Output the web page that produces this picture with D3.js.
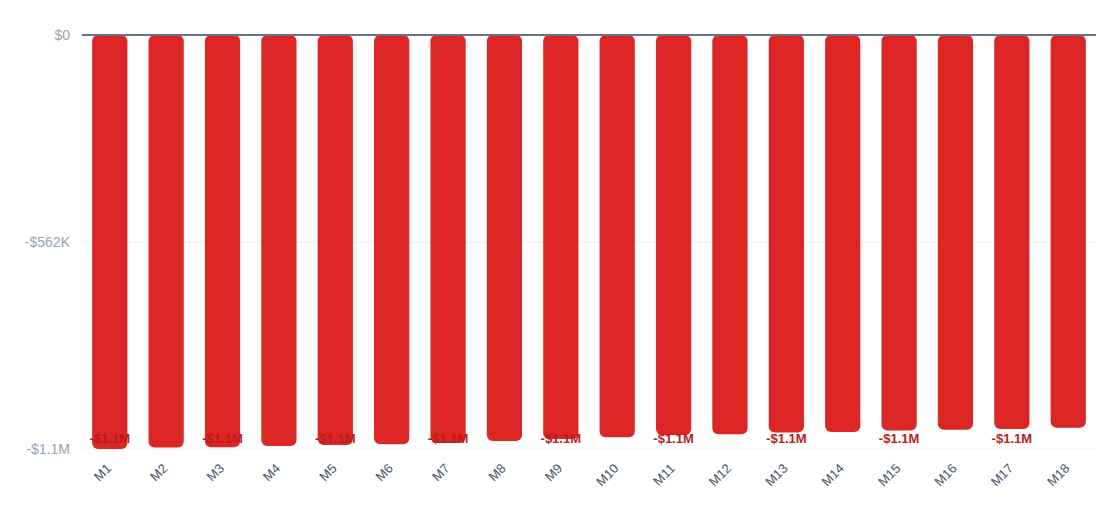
<!DOCTYPE html>
<html>
<head>
<meta charset="utf-8">
<script src="https://cdn.jsdelivr.net/npm/d3@7"></script>
<style>
  html, body { margin: 0; padding: 0; background: #fff; }
  body { font-family: "Liberation Sans", Arial, Helvetica, sans-serif; }
  svg { display: block; }
</style>
</head>
<body>
<div id="chart"></div>
<script>
const months = ["M1", "M2", "M3", "M4", "M5", "M6", "M7", "M8", "M9",
  "M10", "M11", "M12", "M13", "M14", "M15", "M16", "M17", "M18"];

// cumulative cash position
const values = [-1124000, -1120000, -1119000, -1116000, -1113000, -1111000,
  -1108000, -1102000, -1097000, -1092000, -1086000, -1084000, -1079000,
  -1078000, -1074000, -1072000, -1070000, -1066000];

const width = 1120;
const height = 531;
const margin = { top: 35, right: 24, bottom: 82, left: 82 };
const innerWidth = width - margin.left - margin.right;
const innerHeight = height - margin.top - margin.bottom;

const data = months.map((m, i) => ({ month: m, value: values[i] }));

const yMin = d3.min(values);
const yTicks = [0, yMin / 2, yMin];

function money(v) {
  const a = Math.abs(v);
  const sign = v < 0 ? "-" : "";
  if (a === 0) return "$0";
  if (a >= 1e6) return `${sign}$${(a / 1e6).toFixed(1)}M`;
  if (a >= 1e3) return `${sign}$${Math.round(a / 1e3)}K`;
  return `${sign}$${Math.round(a)}`;
}

const svg = d3.select("#chart")
  .append("svg")
  .attr("width", width)
  .attr("height", height);

const g = svg.append("g")
  .attr("transform", `translate(${margin.left},${margin.top})`);

const x = d3.scaleBand()
  .domain(months)
  .range([0, innerWidth])
  .paddingInner(0.375)
  .paddingOuter(0.18);

const y = d3.scaleLinear()
  .domain([yMin, 0])
  .range([innerHeight, 0]);

// grid lines
g.append("g")
  .selectAll("line")
  .data(yTicks.filter(t => t !== 0))
  .enter()
  .append("line")
  .attr("x1", 0)
  .attr("x2", innerWidth)
  .attr("y1", d => y(d))
  .attr("y2", d => y(d))
  .attr("stroke", "#eef2f7")
  .attr("stroke-width", 1);

// y labels
const yAxis = d3.axisLeft(y)
  .tickValues(yTicks)
  .tickFormat(money)
  .tickSize(0)
  .tickPadding(12);

g.append("g")
  .call(yAxis)
  .call(sel => sel.select(".domain").remove())
  .selectAll("text")
  .attr("fill", "#94a3b8")
  .style("font-size", "14px")
  .style("font-family", "'Liberation Sans', Arial, sans-serif");

// bars
g.append("g")
  .selectAll("rect")
  .data(data)
  .enter()
  .append("rect")
  .attr("x", d => x(d.month))
  .attr("y", d => y(0))
  .attr("width", x.bandwidth())
  .attr("height", d => y(d.value) - y(0))
  .attr("rx", 6)
  .attr("fill", "#dc2626");

// zero line
g.append("line")
  .attr("x1", 0)
  .attr("x2", innerWidth)
  .attr("y1", y(0))
  .attr("y2", y(0))
  .attr("stroke", "#64748b")
  .attr("stroke-width", 2);

// value labels on every other bar
g.append("g")
  .selectAll("text")
  .data(data.filter((d, i) => i % 2 === 0))
  .enter()
  .append("text")
  .attr("x", d => x(d.month) + x.bandwidth() / 2)
  .attr("y", d => Math.min(y(d.value) + 16, y(yMin) - 6))
  .attr("text-anchor", "middle")
  .attr("fill", "#b91c1c")
  .style("font-size", "13px")
  .style("font-weight", "bold")
  .text(d => money(d.value));

// x labels
const xAxis = d3.axisBottom(x).tickSize(0).tickPadding(0);

g.append("g")
  .attr("transform", `translate(0,${innerHeight})`)
  .call(xAxis)
  .call(sel => sel.select(".domain").remove())
  .selectAll("text")
  .attr("fill", "#475569")
  .style("font-size", "13px")
  .style("font-family", "'Liberation Sans', Arial, sans-serif")
  .attr("text-anchor", "end")
  .attr("x", 0)
  .attr("y", 0)
  .attr("dy", "0.35em")
  .attr("transform", "translate(-1,17) rotate(-45)");
</script>
</body>
</html>
